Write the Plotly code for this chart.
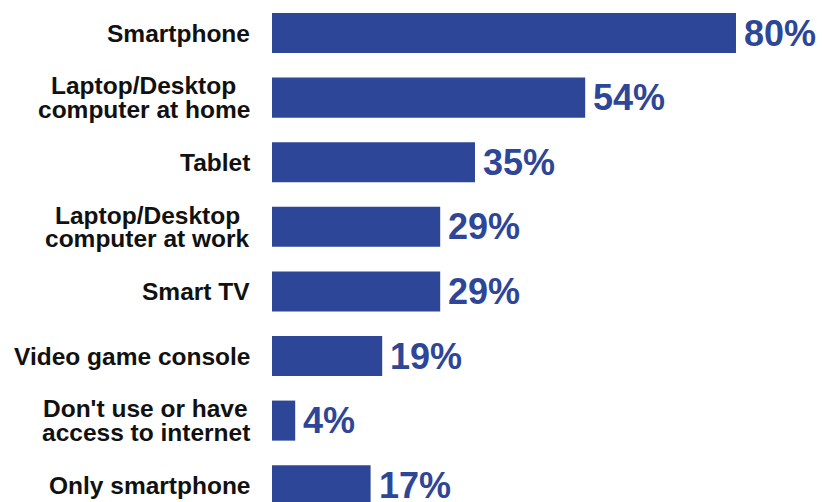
import plotly.graph_objects as go

# Survey results: devices used to access the internet
categories = [
    "Smartphone",
    "Laptop/Desktop<br>computer at home",
    "Tablet",
    "Laptop/Desktop<br>computer at work",
    "Smart TV",
    "Video game console",
    "Don't use or have<br>access to internet",
    "Only smartphone",
]
values = [80, 54, 35, 29, 29, 19, 4, 17]

BAR_COLOR = "#2E4698"
LABEL_FONT = "Liberation Sans, Arial, sans-serif"
LABEL_SIZE = 24.5
VALUE_SIZE = 36
LINE_GAP = 23.6  # baseline distance between the two lines of a wrapped label

# Advance widths of bold Arial/Liberation Sans glyphs (per 1000 em),
# used to centre the shorter line of a wrapped label under the longer one.
BOLD_WIDTHS = {
    " ": 278, "'": 238, "/": 278, "D": 722, "L": 611, "a": 556, "c": 556,
    "e": 556, "h": 611, "i": 278, "k": 556, "m": 889, "n": 611, "o": 611,
    "p": 611, "r": 389, "s": 556, "t": 333, "u": 611, "v": 556, "w": 778,
}


def text_width(s, size):
    return sum(BOLD_WIDTHS.get(ch, 600) for ch in s) * size / 1000.0


fig = go.Figure(
    go.Bar(
        x=values,
        y=categories,
        orientation="h",
        width=0.62,
        marker=dict(color=BAR_COLOR, line=dict(width=0)),
        hoverinfo="skip",
    )
)

annotations = []

# Category labels, right-aligned to the left of the bars
for cat in categories:
    lines = cat.split("<br>")
    widest = max(text_width(ln, LABEL_SIZE) for ln in lines)
    n = len(lines)
    for i, ln in enumerate(lines):
        offset = (widest - text_width(ln, LABEL_SIZE)) / 2.0
        annotations.append(dict(
            xref="x domain", x=0, y=cat, yref="y",
            xanchor="right", yanchor="middle",
            xshift=-20 - offset,
            yshift=((n - 1) / 2.0 - i) * LINE_GAP,
            text="<b>%s</b>" % ln, showarrow=False,
            font=dict(family=LABEL_FONT, size=LABEL_SIZE, color="#111111"),
        ))

# Value labels to the right of each bar
for cat, v in zip(categories, values):
    annotations.append(dict(
        x=v, y=cat, xref="x", yref="y",
        xanchor="left", yanchor="middle", xshift=6,
        text="<b>%d%%</b>" % v, showarrow=False,
        font=dict(family=LABEL_FONT, size=VALUE_SIZE, color=BAR_COLOR),
    ))

fig.update_layout(
    width=822, height=502,
    margin=dict(l=272, r=0, t=0, b=0),
    paper_bgcolor="white", plot_bgcolor="white",
    showlegend=False,
    xaxis=dict(range=[0, 94.83], visible=False, fixedrange=True),
    yaxis=dict(
        type="category", categoryorder="array", categoryarray=categories,
        range=[7.26, -0.511], visible=False, fixedrange=True,
    ),
    annotations=annotations,
)

fig.write_html("out.html")
